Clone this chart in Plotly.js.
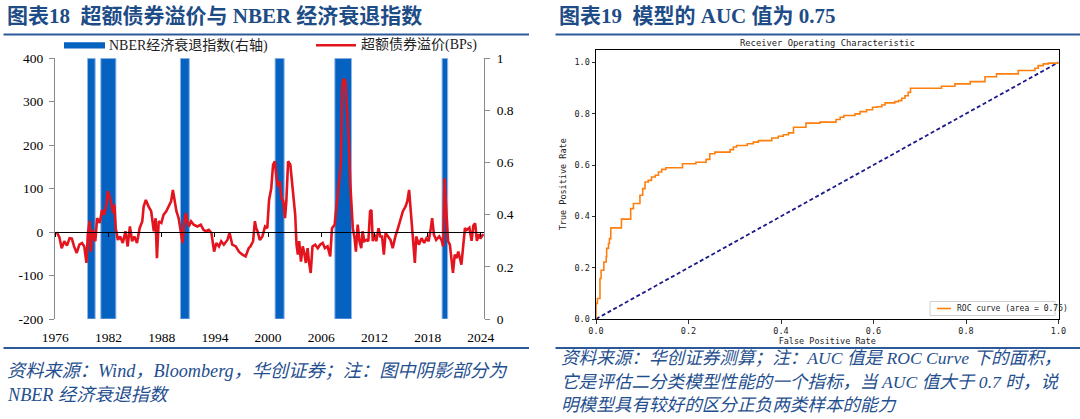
<!DOCTYPE html>
<html>
<head>
<meta charset="utf-8">
<script src="https://cdn.plot.ly/plotly-3.0.1.min.js"></script>
<style>html,body{margin:0;padding:0;background:#fff;}#chart{width:1080px;height:419px;}</style>
</head>
<body>
<div id="chart"></div>
<script>
// ---------- Chart 18 data: excess bond premium (BPs) ----------
const ebpYears = [1976.4,1976.7,1976.95,1977.25,1977.55,1977.85,1978.1,1978.35,1978.65,1978.95,1979.25,1979.5,1979.75,1979.9,1980.1,1980.25,1980.45,1980.75,1980.95,1981.25,1981.5,1981.75,1982.0,1982.15,1982.35,1982.55,1982.75,1982.9,1983.05,1983.3,1983.55,1983.85,1984.15,1984.4,1984.65,1984.9,1985.15,1985.45,1985.75,1986.05,1986.2,1986.45,1986.75,1987.05,1987.35,1987.55,1987.7,1987.9,1988.2,1988.45,1988.75,1989.05,1989.3,1989.5,1989.7,1989.9,1990.15,1990.35,1990.6,1990.75,1990.95,1991.1,1991.3,1991.55,1991.85,1992.25,1992.65,1992.95,1993.2,1993.55,1993.85,1994.15,1994.4,1994.7,1994.95,1995.25,1995.65,1995.9,1996.2,1996.6,1996.95,1997.35,1997.7,1998.05,1998.25,1998.55,1998.75,1998.9,1999.05,1999.3,1999.6,1999.9,2000.15,2000.35,2000.6,2000.8,2001.0,2001.2,2001.35,2001.55,2001.75,2001.95,2002.15,2002.3,2002.5,2002.75,2002.95,2003.1,2003.3,2003.45,2003.6,2003.75,2003.95,2004.15,2004.3,2004.5,2004.7,2004.85,2005.05,2005.25,2005.55,2005.85,2006.1,2006.4,2006.65,2006.95,2007.25,2007.45,2007.75,2007.9,2008.1,2008.3,2008.45,2008.6,2008.75,2008.95,2009.1,2009.25,2009.35,2009.5,2009.65,2009.8,2010.0,2010.15,2010.35,2010.55,2010.75,2010.9,2011.1,2011.35,2011.55,2011.75,2011.9,2012.05,2012.25,2012.45,2012.7,2012.9,2013.1,2013.3,2013.5,2013.75,2014.05,2014.3,2014.6,2014.9,2015.15,2015.45,2015.75,2015.95,2016.15,2016.3,2016.45,2016.6,2016.8,2016.95,2017.25,2017.55,2017.85,2018.1,2018.35,2018.6,2018.75,2018.95,2019.2,2019.55,2019.8,2020.0,2020.15,2020.35,2020.55,2020.75,2020.9,2021.1,2021.3,2021.5,2021.7,2021.85,2022.05,2022.25,2022.45,2022.65,2022.95,2023.2,2023.4,2023.6,2023.8,2024.0,2024.2,2024.4,2024.55];
const ebpValues = [0,-12,-37,-21,-31,-14,-15,-33,-48,-29,-25,-33,-71,-6,26,-45,5,-21,32,21,51,40,63,94,82,67,44,63,9,-18,-10,-25,2,-33,13,-21,-10,-25,9,25,59,74,59,48,2,32,-60,25,21,40,48,63,71,97,71,48,32,9,-25,17,44,28,13,25,17,13,17,5,2,5,-2,-45,-25,-33,-21,-29,-18,-2,-29,-33,-45,-52,-56,-37,-33,-21,25,9,2,-18,-10,13,9,74,101,155,163,124,105,117,78,71,32,71,163,155,117,86,40,-29,-52,-21,-68,-33,-45,-71,-37,-68,-94,-33,-29,-37,-29,-25,-37,-33,-56,9,17,48,90,132,155,332,353,347,301,255,209,117,63,9,-14,-45,17,-21,-37,2,-21,-18,-21,48,51,-21,-6,-21,9,-10,-10,-52,-2,-10,-18,-37,-10,9,25,48,59,71,97,59,25,-6,-71,-10,-29,-14,-25,-14,-21,9,32,-6,-18,-10,-18,-33,124,48,-21,-29,-52,-94,-52,-60,-45,-56,-75,-33,9,5,10,-20,15,20,-20,-5,-15,-8,-5];
// NBER recession periods (shaded)
const recStart = [1979.87,1981.37,1990.35,2001.03,2007.77,2019.87];
const recEnd   = [1980.73,1983.07,1991.35,2002.05,2009.65,2020.5];
const recValue = [1,1,1,1,1,1];
// axis ticks
const xTickPos    = [1976.24,1982.24,1988.24,1994.24,2000.24,2006.24,2012.24,2018.24,2024.24];
const xTickLabels = ['1976','1982','1988','1994','2000','2006','2012','2018','2024'];
const leftTicks     = [-200,-100,0,100,200,300,400];
const leftTickLabels = ['-200','-100','0','100','200','300','400'];
const rightTicks     = [0,0.2,0.4,0.6,0.8,1];
const rightTickLabels = ['0','0.2','0.4','0.6','0.8','1'];

// ---------- Chart 19 data: ROC curve ----------
const fpr = [0,0,0.003,0.0086,0.011,0.017,0.022,0.023,0.027,0.029,0.032,0.055,0.075,0.081,0.095,0.101,0.106,0.113,0.12,0.128,0.135,0.142,0.151,0.187,0.216,0.238,0.246,0.257,0.29,0.297,0.304,0.327,0.34,0.351,0.38,0.394,0.405,0.416,0.427,0.454,0.484,0.519,0.528,0.536,0.56,0.571,0.585,0.598,0.607,0.618,0.625,0.646,0.654,0.661,0.668,0.675,0.68,0.747,0.776,0.809,0.841,0.866,0.913,0.949,0.956,0.967,0.978,1.0];
const tpr = [0,0.061,0.08,0.158,0.19,0.222,0.242,0.275,0.294,0.313,0.355,0.389,0.43,0.45,0.482,0.508,0.534,0.54,0.553,0.56,0.573,0.583,0.589,0.605,0.611,0.622,0.644,0.65,0.66,0.67,0.676,0.683,0.689,0.695,0.705,0.712,0.718,0.725,0.747,0.763,0.767,0.777,0.786,0.793,0.799,0.808,0.815,0.825,0.827,0.834,0.842,0.847,0.851,0.86,0.87,0.883,0.899,0.907,0.916,0.925,0.944,0.955,0.968,0.977,0.987,0.994,0.997,1.0];
const diagX = [0,1];
const diagY = [0,1];
const rocTicks = [0,0.2,0.4,0.6,0.8,1.0];

// ---------- geometry helpers ----------
const W = 1080, H = 419;
const px = v => v / W;
const py = v => 1 - v / H;
const serif = "'Liberation Serif','Times New Roman','Noto Sans CJK SC',serif";
const mono = "'DejaVu Sans Mono','Liberation Mono',monospace";
const navyTitle = '#1d4c86';
const noteColor = '#1f4f8f';

const L_dom_x = [px(55), px(484)];
const L_dom_y = [py(319), py(58.3)];
const L_range = [1976.2, 2024.6];
const zeroPos = L_dom_y[0] + (0 - (-200)) / 600 * (L_dom_y[1] - L_dom_y[0]);

const recCenter = recStart.map((s, i) => (s + recEnd[i]) / 2);
const recWidth = recStart.map((s, i) => recEnd[i] - s);

const traces = [
  {type:'bar', x:recCenter, y:recValue, width:recWidth, xaxis:'x', yaxis:'y',
   marker:{color:'#0562c0', line:{color:'#8fb5e6', width:1}}, showlegend:false, hoverinfo:'skip'},
  {type:'scatter', mode:'lines', x:ebpYears, y:ebpValues, xaxis:'x', yaxis:'y2',
   line:{color:'#e3141d', width:2.6}, showlegend:false, hoverinfo:'skip'},
  {type:'scatter', mode:'lines', x:[], y:[], xaxis:'x3', yaxis:'y2', showlegend:false, hoverinfo:'skip'},
  {type:'scatter', mode:'lines', x:diagX, y:diagY, xaxis:'x2', yaxis:'y3',
   line:{color:'#1a1a8c', width:1.8, dash:'4px,2.6px'}, showlegend:false, hoverinfo:'skip'},
  {type:'scatter', mode:'lines', x:fpr, y:tpr, xaxis:'x2', yaxis:'y3',
   line:{color:'#ff7f0e', width:1.6, shape:'hv'}, showlegend:false, hoverinfo:'skip'}
];

const tickFontL = {family:serif, size:13.5, color:'#000'};
const tickFontR = {family:mono, size:8.5, color:'#222'};

const layout = {
  width:W, height:H, margin:{l:0,r:0,t:0,b:0}, paper_bgcolor:'#fff', plot_bgcolor:'rgba(0,0,0,0)',
  showlegend:false, bargap:0,
  xaxis:{domain:L_dom_x, anchor:'y', range:L_range, tickmode:'array', tickvals:xTickPos, ticktext:xTickLabels,
         showline:false, ticks:'outside', ticklen:6, tickcolor:'rgba(0,0,0,0)', showgrid:false, zeroline:false, tickfont:tickFontL},
  xaxis3:{overlaying:'x', anchor:'free', position:zeroPos, range:L_range, tickmode:'array', tickvals:xTickPos,
          showticklabels:false, showline:true, linecolor:'#000', linewidth:1, ticks:'outside', ticklen:4, tickcolor:'#000', tickwidth:1,
          showgrid:false, zeroline:false},
  yaxis:{domain:L_dom_y, anchor:'x', side:'right', range:[0,1], tickmode:'array', tickvals:rightTicks, ticktext:rightTickLabels,
         showline:true, linecolor:'#8a8a8a', linewidth:1, ticks:'outside', ticklen:5, tickcolor:'#8a8a8a',
         showgrid:false, zeroline:false, tickfont:tickFontL, ticklabelstandoff:4},
  yaxis2:{overlaying:'y', anchor:'x', side:'left', range:[-200,400], tickmode:'array', tickvals:leftTicks, ticktext:leftTickLabels,
          showline:true, linecolor:'#8a8a8a', linewidth:1, ticks:'outside', ticklen:5, tickcolor:'#8a8a8a',
          showgrid:false, zeroline:false, tickfont:tickFontL, ticklabelstandoff:3},
  xaxis2:{domain:[px(596), px(1058.5)], anchor:'y3', range:[0,1], tickmode:'array', tickvals:rocTicks, tickformat:'.1f',
          showline:true, mirror:true, linecolor:'#000', linewidth:1, ticks:'outside', ticklen:3.5, tickcolor:'#000', tickwidth:0.8,
          showgrid:false, zeroline:false, tickfont:tickFontR,
          title:{text:'False Positive Rate', font:{family:mono, size:8.5, color:'#222'}, standoff:3}},
  yaxis3:{domain:[py(319), py(49.5)], anchor:'x2', range:[0,1.05], tickmode:'array', tickvals:rocTicks, tickformat:'.1f',
          showline:true, mirror:true, linecolor:'#000', linewidth:1, ticks:'outside', ticklen:3.5, tickcolor:'#000', tickwidth:0.8,
          showgrid:false, zeroline:false, tickfont:tickFontR,
          title:{text:'True Positive Rate', font:{family:mono, size:8.5, color:'#222'}, standoff:6}},
  shapes:[
    {type:'line', xref:'paper', yref:'paper', x0:px(3.5), x1:px(529), y0:py(34.6), y1:py(34.6), line:{color:'#2c5a99', width:2}},
    {type:'line', xref:'paper', yref:'paper', x0:px(555.5), x1:px(1080), y0:py(34.6), y1:py(34.6), line:{color:'#2c5a99', width:2}},
    {type:'line', xref:'paper', yref:'paper', x0:px(3.5), x1:px(529), y0:py(348), y1:py(348), line:{color:'#2c5a99', width:2}},
    {type:'line', xref:'paper', yref:'paper', x0:px(555.5), x1:px(1080), y0:py(348), y1:py(348), line:{color:'#2c5a99', width:2}},
    // legend of chart 18
    {type:'rect', xref:'paper', yref:'paper', x0:px(64), x1:px(105), y0:py(48.5), y1:py(42.2), fillcolor:'#0562c0', line:{width:0}},
    {type:'line', xref:'paper', yref:'paper', x0:px(316), x1:px(356), y0:py(45.3), y1:py(45.3), line:{color:'#e3141d', width:2.6}},
    // legend of chart 19
    {type:'rect', xref:'paper', yref:'paper', x0:px(930), x1:px(1055), y0:py(315.5), y1:py(301.5), fillcolor:'rgba(255,255,255,0.8)', line:{color:'#d0d0d0', width:1}},
    {type:'line', xref:'paper', yref:'paper', x0:px(937), x1:px(951), y0:py(308.5), y1:py(308.5), line:{color:'#ff7f0e', width:1.6}}
  ],
  annotations:[
    {xref:'paper', yref:'paper', x:px(5), y:py(15.5), xanchor:'left', yanchor:'middle', showarrow:false,
     text:'<b>图表18  超额债券溢价与 NBER 经济衰退指数</b>', font:{family:serif, size:21, color:navyTitle}},
    {xref:'paper', yref:'paper', x:px(557), y:py(15.5), xanchor:'left', yanchor:'middle', showarrow:false,
     text:'<b>图表19  模型的 AUC 值为 0.75</b>', font:{family:serif, size:21, color:navyTitle}},
    {xref:'paper', yref:'paper', x:px(107), y:py(45.3), xanchor:'left', yanchor:'middle', showarrow:false,
     text:'NBER经济衰退指数(右轴)', font:{family:serif, size:14, color:'#222'}},
    {xref:'paper', yref:'paper', x:px(359), y:py(45.3), xanchor:'left', yanchor:'middle', showarrow:false,
     text:'超额债券溢价(BPs)', font:{family:serif, size:14, color:'#222'}},
    {xref:'paper', yref:'paper', x:px(827), y:py(42.5), xanchor:'center', yanchor:'middle', showarrow:false,
     text:'Receiver Operating Characteristic', font:{family:mono, size:8.8, color:'#222'}},
    {xref:'paper', yref:'paper', x:px(955), y:py(308.5), xanchor:'left', yanchor:'middle', showarrow:false,
     text:'ROC curve (area = 0.75)', font:{family:mono, size:8, color:'#222'}},
    {xref:'paper', yref:'paper', x:px(5), y:py(371), xanchor:'left', yanchor:'middle', showarrow:false,
     text:'<i>资料来源：Wind，Bloomberg，华创证券；注：图中阴影部分为</i>', font:{family:serif, size:18.2, color:noteColor}},
    {xref:'paper', yref:'paper', x:px(5), y:py(395), xanchor:'left', yanchor:'middle', showarrow:false,
     text:'<i>NBER 经济衰退指数</i>', font:{family:serif, size:18.2, color:noteColor}},
    {xref:'paper', yref:'paper', x:px(559), y:py(358), xanchor:'left', yanchor:'middle', showarrow:false,
     text:'<i>资料来源：华创证券测算；注：AUC 值是 ROC Curve 下的面积，</i>', font:{family:serif, size:17.6, color:noteColor}},
    {xref:'paper', yref:'paper', x:px(559), y:py(382), xanchor:'left', yanchor:'middle', showarrow:false,
     text:'<i>它是评估二分类模型性能的一个指标，当 AUC 值大于 0.7 时，说</i>', font:{family:serif, size:17.6, color:noteColor}},
    {xref:'paper', yref:'paper', x:px(559), y:py(405), xanchor:'left', yanchor:'middle', showarrow:false,
     text:'<i>明模型具有较好的区分正负两类样本的能力</i>', font:{family:serif, size:17.6, color:noteColor}}
  ]
};

Plotly.newPlot('chart', traces, layout, {staticPlot:true, displayModeBar:false});
</script>
</body>
</html>
